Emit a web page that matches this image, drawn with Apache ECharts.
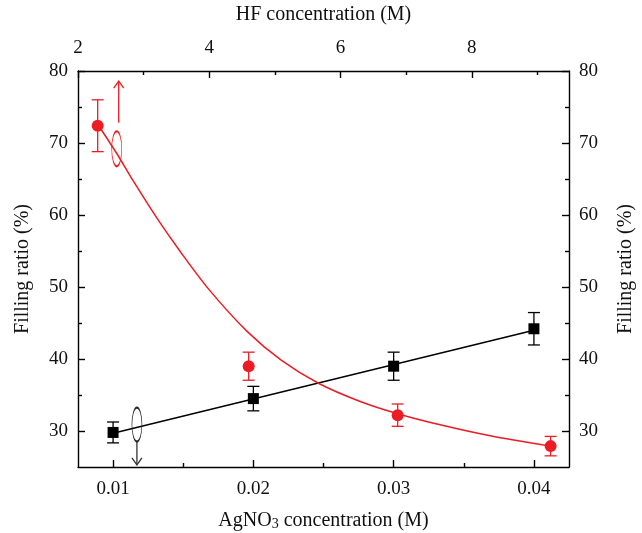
<!DOCTYPE html>
<html>
<head>
<meta charset="utf-8">
<script src="https://cdn.jsdelivr.net/npm/echarts@6/dist/echarts.min.js"></script>
<style>
  html, body { margin: 0; padding: 0; background: #fff; }
  #chart { width: 642px; height: 533px; }
</style>
</head>
<body>
<div id="chart"></div>
<script>
// Filling ratio vs AgNO3 (bottom axis) and HF (top axis) concentration

const RED = '#ED1C24';
const BLACK = '#000000';
const FONT = 'Liberation Serif';
const TEXT = '#111';

// tick values
const agMajorTicks = [0.01, 0.02, 0.03, 0.04];
const agMinorTicks = [0.015, 0.025, 0.035];
const hfMajorTicks = [2, 4, 6, 8];
const hfMinorTicks = [3, 5, 7, 9];
const yMajorTicks = [30, 40, 50, 60, 70, 80];
const yMinorTicks = [35, 45, 55, 65, 75];

// black squares: AgNO3 concentration (M) -> filling ratio (%)
const agConc = [0.01, 0.02, 0.03, 0.04];
const agFill = [29.8, 34.5, 39.0, 44.2];
const agErr = [1.45, 1.7, 1.95, 2.25];
// linear fit line end points
const agFitX = [0.01, 0.04];
const agFitY = [29.7, 44.0];

// red circles: HF concentration (M) -> filling ratio (%)
const hfConc = [2.3, 4.6, 6.87, 9.2];
const hfFill = [72.4, 39.0, 32.2, 27.9];
const hfErr = [3.6, 1.95, 1.55, 1.35];
// fitted decay curve
const hfCurveX = [2.3, 2.6, 2.83, 3.2, 3.56, 4.0, 4.58, 5.1, 5.67, 6.3, 6.87, 7.5, 8.3, 9.2];
const hfCurveY = [72.6, 68.4, 64.9, 59.6, 54.9, 49.6, 43.8, 39.8, 36.6, 34.1, 32.4, 30.9, 29.3, 27.9];

// ellipse + arrow markers telling which axis each curve uses
const hfMarker = { x: 2.59, y: 69.2, arrowX: 2.62, arrowFrom: 72.8, arrowTo: 78.6 };
const agMarker = { x: 0.0117, y: 30.9, arrowFrom: 28.5, arrowTo: 25.3 };

const chart = echarts.init(document.getElementById('chart'), null, { renderer: 'canvas' });

const labelStyle = { fontFamily: FONT, fontSize: 19, color: TEXT };
const nameStyle = { fontFamily: FONT, fontSize: 20, color: TEXT };
const lineStyle = { color: BLACK, width: 1.4 };

// helper: an axis that only draws ticks (used for minor ticks)
function tickAxis(base, values, len) {
    return Object.assign({}, base, {
        name: '',
        axisLine: { show: false },
        axisLabel: { show: false },
        axisTick: { show: true, inside: true, length: len, customValues: values, lineStyle: lineStyle },
        splitLine: { show: false }
    });
}

const xBottom = {
    type: 'value', position: 'bottom', gridIndex: 0,
    min: 0.0075, max: 0.0425
};
const xTop = {
    type: 'value', position: 'top', gridIndex: 0,
    min: 2, max: 9.48
};
const yLeft = { type: 'value', position: 'left', min: 25, max: 80 };
const yRight = { type: 'value', position: 'right', min: 25, max: 80 };

const xAxes = [
    Object.assign({}, xBottom, {
        name: 'AgNO{sub|3} concentration (M)',
        nameLocation: 'middle',
        nameGap: 44,
        nameTextStyle: Object.assign({}, nameStyle, {
            lineHeight: 20,
            rich: { sub: { fontFamily: FONT, fontSize: 14, color: TEXT, lineHeight: 12, verticalAlign: 'bottom' } }
        }),
        axisLine: { show: true, lineStyle: lineStyle },
        axisTick: { show: true, inside: true, length: 7, customValues: agMajorTicks, lineStyle: lineStyle },
        axisLabel: Object.assign({}, labelStyle, { margin: 13, customValues: agMajorTicks, formatter: v => v.toFixed(2) }),
        splitLine: { show: false }
    }),
    Object.assign({}, xTop, {
        name: 'HF concentration (M)',
        nameLocation: 'middle',
        nameGap: 46,
        nameTextStyle: nameStyle,
        axisLine: { show: true, lineStyle: lineStyle },
        axisTick: { show: true, inside: true, length: 7, customValues: hfMajorTicks, lineStyle: lineStyle },
        axisLabel: Object.assign({}, labelStyle, { margin: 13, customValues: hfMajorTicks }),
        splitLine: { show: false }
    }),
    tickAxis(xBottom, agMinorTicks, 4),
    tickAxis(xTop, hfMinorTicks, 4)
];

const yAxes = [
    Object.assign({}, yLeft, {
        name: 'Filling ratio (%)',
        nameLocation: 'middle',
        nameRotate: 90,
        nameGap: 45,
        nameTextStyle: nameStyle,
        axisLine: { show: true, lineStyle: lineStyle },
        axisTick: { show: true, inside: true, length: 7, customValues: yMajorTicks, lineStyle: lineStyle },
        axisLabel: Object.assign({}, labelStyle, { margin: 10, customValues: yMajorTicks }),
        splitLine: { show: false }
    }),
    Object.assign({}, yRight, {
        name: 'Filling ratio (%)',
        nameLocation: 'middle',
        nameRotate: 90,
        nameGap: 47,
        nameTextStyle: nameStyle,
        axisLine: { show: true, lineStyle: lineStyle },
        axisTick: { show: true, inside: true, length: 7, customValues: yMajorTicks, lineStyle: lineStyle },
        axisLabel: Object.assign({}, labelStyle, { margin: 10, customValues: yMajorTicks }),
        splitLine: { show: false }
    }),
    tickAxis(yLeft, yMinorTicks, 4),
    tickAxis(yRight, yMinorTicks, 4)
];

// error bars: [x, low, high]
function errorBarSeries(xs, ys, errs, color, xAxisIndex) {
    return {
        type: 'custom',
        xAxisIndex: xAxisIndex,
        yAxisIndex: 0,
        silent: true,
        z: 3,
        data: xs.map((x, i) => [x, ys[i] - errs[i], ys[i] + errs[i]]),
        renderItem: (params, api) => {
            const lo = api.coord([api.value(0), api.value(1)]);
            const hi = api.coord([api.value(0), api.value(2)]);
            const w = 6;
            const style = { stroke: color, lineWidth: 1.3, fill: null };
            return {
                type: 'group',
                children: [
                    { type: 'line', shape: { x1: lo[0], y1: lo[1], x2: hi[0], y2: hi[1] }, style: style },
                    { type: 'line', shape: { x1: lo[0] - w, y1: lo[1], x2: lo[0] + w, y2: lo[1] }, style: style },
                    { type: 'line', shape: { x1: hi[0] - w, y1: hi[1], x2: hi[0] + w, y2: hi[1] }, style: style }
                ]
            };
        }
    };
}

// open arrow: [x, from, to]
function arrowSeries(x, from, to, color, xAxisIndex) {
    return {
        type: 'custom',
        xAxisIndex: xAxisIndex,
        yAxisIndex: 0,
        silent: true,
        z: 4,
        data: [[x, from, to]],
        renderItem: (params, api) => {
            const a = api.coord([api.value(0), api.value(1)]);
            const b = api.coord([api.value(0), api.value(2)]);
            const dir = b[1] < a[1] ? 1 : -1;
            const style = { stroke: color, lineWidth: 1.3, fill: null };
            return {
                type: 'group',
                children: [
                    { type: 'line', shape: { x1: a[0], y1: a[1], x2: b[0], y2: b[1] }, style: style },
                    { type: 'polyline', shape: { points: [[b[0] - 5, b[1] + dir * 7], [b[0], b[1]], [b[0] + 5, b[1] + dir * 7]] }, style: style }
                ]
            };
        }
    };
}

const option = {
    animation: false,
    backgroundColor: '#fff',
    grid: { left: 78, right: 73, top: 71, bottom: 66, containLabel: false, outerBoundsMode: 'none' },
    xAxis: xAxes,
    yAxis: yAxes,
    series: [
        {
            name: 'AgNO3 fit',
            type: 'line',
            xAxisIndex: 0, yAxisIndex: 0,
            data: agFitX.map((x, i) => [x, agFitY[i]]),
            showSymbol: false,
            lineStyle: { color: BLACK, width: 1.5 },
            silent: true,
            z: 2
        },
        {
            name: 'HF fit',
            type: 'line',
            xAxisIndex: 1, yAxisIndex: 0,
            data: hfCurveX.map((x, i) => [x, hfCurveY[i]]),
            showSymbol: false,
            smooth: 0.3,
            lineStyle: { color: RED, width: 1.5 },
            silent: true,
            z: 2
        },
        errorBarSeries(agConc, agFill, agErr, BLACK, 0),
        errorBarSeries(hfConc, hfFill, hfErr, RED, 1),
        {
            name: 'AgNO3',
            type: 'scatter',
            xAxisIndex: 0, yAxisIndex: 0,
            symbol: 'rect',
            symbolSize: 11,
            itemStyle: { color: BLACK, opacity: 1 },
            data: agConc.map((x, i) => [x, agFill[i]]),
            z: 5
        },
        {
            name: 'HF',
            type: 'scatter',
            xAxisIndex: 1, yAxisIndex: 0,
            symbol: 'circle',
            symbolSize: 12,
            itemStyle: { color: RED, opacity: 1 },
            data: hfConc.map((x, i) => [x, hfFill[i]]),
            z: 5
        },
        {
            name: 'HF marker',
            type: 'scatter',
            xAxisIndex: 1, yAxisIndex: 0,
            symbol: 'circle',
            symbolSize: [10, 35],
            itemStyle: { color: 'rgba(0,0,0,0)', borderColor: RED, borderWidth: 1.2, opacity: 1 },
            data: [[hfMarker.x, hfMarker.y]],
            silent: true,
            z: 4
        },
        {
            name: 'AgNO3 marker',
            type: 'scatter',
            xAxisIndex: 0, yAxisIndex: 0,
            symbol: 'circle',
            symbolSize: [10, 34],
            itemStyle: { color: 'rgba(0,0,0,0)', borderColor: '#222', borderWidth: 1.2, opacity: 1 },
            data: [[agMarker.x, agMarker.y]],
            silent: true,
            z: 4
        },
        arrowSeries(hfMarker.arrowX, hfMarker.arrowFrom, hfMarker.arrowTo, RED, 1),
        arrowSeries(agMarker.x, agMarker.arrowFrom, agMarker.arrowTo, '#333', 0)
    ]
};

chart.setOption(option);
window.addEventListener('resize', () => chart.resize());
</script>
</body>
</html>
